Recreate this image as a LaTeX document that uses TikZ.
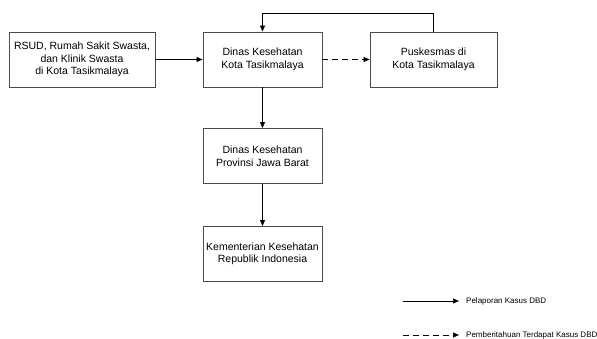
\documentclass[tikz,border=0pt]{standalone}
\usepackage{fontspec}
\setmainfont{Liberation Sans}
\usetikzlibrary{arrows.meta}
\tikzset{
  kotak/.style={draw=black!70, line width=0.9pt, minimum height=55pt, align=center,
    font=\fontsize{10.5}{12.5}\selectfont, inner sep=2pt},
  panah/.style={-{Triangle[length=6pt,width=5pt]}, line width=0.8pt},
  putus/.style={dash pattern=on 6pt off 4pt},
  info/.style={anchor=west, font=\fontsize{8}{9}\selectfont, inner sep=1pt}
}
\begin{document}
\begin{tikzpicture}[x=1pt,y=-1pt]
\useasboundingbox (0,0) rectangle (597,339);
\node[kotak, minimum width=146pt] (rs) at (82,59.5) {RSUD, Rumah Sakit Swasta,\\dan Klinik Swasta\\di Kota Tasikmalaya};
\node[kotak, minimum width=119pt] (dk) at (262.5,59.5) {Dinas Kesehatan\\Kota Tasikmalaya};
\node[kotak, minimum width=127pt] (pk) at (433.5,59.5) {Puskesmas di\\Kota Tasikmalaya};
\node[kotak, minimum width=119pt] (dp) at (262.5,156) {Dinas Kesehatan\\Provinsi Jawa Barat};
\node[kotak, minimum width=119pt] (km) at (262.5,254) {Kementerian Kesehatan\\Republik Indonesia};
\draw[panah] (rs) -- (dk);
\draw[panah, putus] (dk) -- (pk);
\draw[panah] (dk) -- (dp);
\draw[panah] (dp) -- (km);
\draw[panah] (pk.north) -- ++(0,-18) -| (dk.north);
% keterangan
\coordinate (l1) at (403,301);
\node[info] (t1) at (465,301) {Pelaporan Kasus DBD};
\draw[panah, line width=0.6pt] (l1) -- ([xshift=-6pt]t1.west);
\coordinate (l2) at (403,335);
\node[info] (t2) at (465,335) {Pemberitahuan Terdapat Kasus DBD};
\draw[panah, line width=0.6pt, putus] (l2) -- ([xshift=-6pt]t2.west);
\end{tikzpicture}
\end{document}
